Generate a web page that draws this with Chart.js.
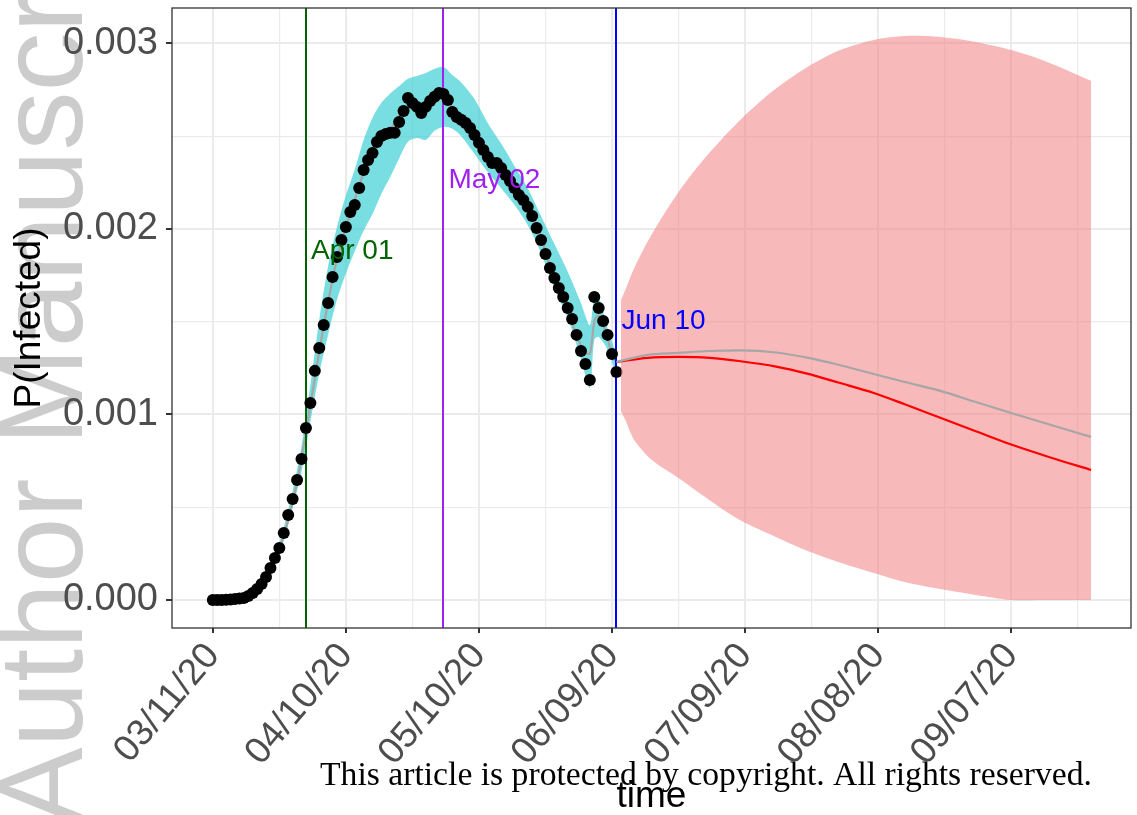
<!DOCTYPE html>
<html>
<head>
<meta charset="utf-8">
<script src="https://cdn.jsdelivr.net/npm/chart.js@4.4.0/dist/chart.umd.min.js"></script>
<style>
    html, body { margin: 0; padding: 0; background: #fff; overflow: hidden; }
    canvas { display: block; }
</style>
</head>
<body>
<canvas id="infectedChart" width="1137" height="815"></canvas>
<script>
// x values are days since 03/11/20
const xTickDays = [0, 30, 60, 90, 120, 150, 180];
const xTickLabels = ["03/11/20", "04/10/20", "05/10/20", "06/09/20", "07/09/20", "08/08/20", "09/07/20"];
const xMinorDays = [15, 45, 75, 105, 135, 165, 195];
const yTickValues = [0, 0.001, 0.002, 0.003];
const yTickLabels = ["0.000", "0.001", "0.002", "0.003"];
const yMinorValues = [0.0005, 0.0015, 0.0025];

// daily observed P(Infected), day 0 .. day 91
const observed = [
    0, 0, 0, 0.000001, 0.000003, 0.000005, 0.000008, 0.000011, 0.000022, 0.000038,
    0.000059, 0.000086, 0.000124, 0.000173, 0.000226, 0.000280, 0.000361, 0.000458, 0.000544, 0.000647,
    0.000760, 0.000927, 0.001062, 0.001235, 0.001358, 0.001482, 0.001601, 0.001741, 0.001849, 0.001941,
    0.002011, 0.002092, 0.002129, 0.002221, 0.002318, 0.002372, 0.002410, 0.002469, 0.002501, 0.002512,
    0.002518, 0.002518, 0.002577, 0.002636, 0.002706, 0.002679, 0.002658, 0.002625, 0.002658, 0.002690,
    0.002712, 0.002733, 0.002728, 0.002695, 0.002631, 0.002604, 0.002588, 0.002571, 0.002544, 0.002507,
    0.002464, 0.002426, 0.002388, 0.002356, 0.002356, 0.002329, 0.002291, 0.002259, 0.002221, 0.002183,
    0.002156, 0.002119, 0.002070, 0.002005, 0.001941, 0.001865, 0.001790, 0.001736, 0.001682, 0.001633,
    0.001574, 0.001515, 0.001429, 0.001342, 0.001272, 0.001186, 0.001633, 0.001574, 0.001504, 0.001429,
    0.001326, 0.001229
];

// fitted curve and its band over the observed period
const fitDays = [0, 6, 10, 13, 16, 19, 22, 25, 28, 31, 34, 37, 40, 43, 46, 49, 52, 55, 58, 61, 64, 67, 70, 73, 76, 79, 82, 84, 85, 86, 87, 88, 89, 90, 91];
const fitValues = [0, 0.000005, 0.000065, 0.000162, 0.000345, 0.000636, 0.001051, 0.001477, 0.001838, 0.002081,
    0.002302, 0.002469, 0.002534, 0.002642, 0.002663, 0.002695, 0.002717, 0.002615, 0.002550, 0.002437,
    0.002350, 0.002259, 0.002156, 0.002022, 0.001806, 0.001633, 0.001429, 0.001332, 0.001326, 0.001499,
    0.001531, 0.001482, 0.001412, 0.001321, 0.001283];

const bandDays = [0, 8, 12, 15, 18, 20, 22, 24, 26, 28, 30, 32, 34, 36, 38, 40, 42, 44, 46, 48, 50, 52, 54, 56, 59, 62, 65, 68, 71, 74, 77, 80, 83, 85, 86, 87, 89, 91];
const bandUpper = [0.000011, 0.000043, 0.000146, 0.000310, 0.000590, 0.000830, 0.001160, 0.001510, 0.001800, 0.002010,
    0.002180, 0.002320, 0.002480, 0.002600, 0.002680, 0.002730, 0.002770, 0.002810, 0.002825, 0.002840,
    0.002863, 0.002873, 0.002830, 0.002790, 0.002700, 0.002570, 0.002460, 0.002340, 0.002220, 0.002070,
    0.001920, 0.001770, 0.001600, 0.001482, 0.001628, 0.001633, 0.001466, 0.001321];
const bandLower = [-0.000005, 0.000016, 0.000097, 0.000245, 0.000500, 0.000690, 0.000960, 0.001220, 0.001430, 0.001620,
    0.001760, 0.001880, 0.001990, 0.002080, 0.002190, 0.002280, 0.002380, 0.002470, 0.002490, 0.002480,
    0.002530, 0.002550, 0.002540, 0.002500, 0.002405, 0.002305, 0.002220, 0.002130, 0.002020, 0.001870,
    0.001680, 0.001520, 0.001300, 0.001143, 0.001402, 0.001418, 0.001348, 0.001208];

// forecast after Jun 10
const forecastDays = [91, 98, 105, 112, 119, 127, 134, 141, 149, 156, 164, 172, 180, 189, 198];
const forecastRed = [0.001283, 0.001305, 0.001310, 0.001305, 0.001287, 0.001258, 0.001220, 0.001172, 0.001116, 0.001055,
    0.000982, 0.000910, 0.000838, 0.000767, 0.000701];
const forecastGray = [0.001283, 0.001321, 0.001332, 0.001342, 0.001345, 0.001334, 0.001306, 0.001268, 0.001218, 0.001175,
    0.001127, 0.001067, 0.001008, 0.000943, 0.000879];

const forecastBandDays = [92, 93, 95, 99, 105, 110, 118, 126, 133, 141, 149, 156, 164, 172, 180, 187, 195, 198];
const forecastUpper = [0.001617, 0.001671, 0.001790, 0.001973, 0.002199, 0.002356, 0.002566, 0.002739, 0.002857, 0.002960,
    0.003019, 0.003040, 0.003035, 0.003008, 0.002965, 0.002911, 0.002830, 0.002798];
const forecastLower = [0.001019, 0.000970, 0.000863, 0.000755, 0.000658, 0.000571, 0.000442, 0.000350, 0.000275, 0.000205,
    0.000146, 0.000097, 0.000059, 0.000027, 0, 0, 0, 0];

// marked dates
const eventDays = [21, 52, 91];
const eventLabels = ["Apr 01", "May 02", "Jun 10"];
const eventLabelY = [0.00184, 0.00222, 0.00146];
const eventColors = ["#006400", "#a020f0", "#0000ff"];

function pairs(xs, ys) {
    return xs.map(function (x, i) { return { x: x, y: ys[i] }; });
}

const sans = "'Liberation Sans', Arial, sans-serif";
const POINTS_INDEX = 3;

const decorations = {
    id: "decorations",
    beforeDraw: function (chart) {
        const ctx = chart.ctx;
        ctx.save();
        ctx.translate(82, 826);
        ctx.rotate(-Math.PI / 2);
        ctx.font = "118px " + sans;
        ctx.fillStyle = "#cccccc";
        ctx.textBaseline = "alphabetic";
        ctx.fillText("Author Manuscript", 0, 0);
        ctx.restore();
    },
    beforeDatasetDraw: function (chart, args) {
        if (args.index !== POINTS_INDEX) return;
        const ctx = chart.ctx;
        const area = chart.chartArea;
        const xs = chart.scales.x;
        ctx.save();
        ctx.lineWidth = 2;
        eventDays.forEach(function (d, i) {
            const px = Math.round(xs.getPixelForValue(d));
            ctx.strokeStyle = eventColors[i];
            ctx.beginPath();
            ctx.moveTo(px, area.top);
            ctx.lineTo(px, area.bottom);
            ctx.stroke();
        });
        ctx.restore();
    },
    afterDatasetsDraw: function (chart) {
        const ctx = chart.ctx;
        const area = chart.chartArea;
        const xs = chart.scales.x;
        const ys = chart.scales.y;
        ctx.save();
        ctx.font = "28px " + sans;
        ctx.textBaseline = "alphabetic";
        ctx.textAlign = "left";
        eventDays.forEach(function (d, i) {
            ctx.fillStyle = eventColors[i];
            ctx.fillText(eventLabels[i], xs.getPixelForValue(d) + 5, ys.getPixelForValue(eventLabelY[i]));
        });
        ctx.strokeStyle = "#333333";
        ctx.lineWidth = 1.3;
        ctx.strokeRect(area.left, area.top, area.right - area.left, area.bottom - area.top);
        ctx.restore();
    },
    afterDraw: function (chart) {
        const ctx = chart.ctx;
        const text = "This article is protected by copyright. All rights reserved.";
        ctx.save();
        ctx.font = "33px 'Liberation Serif', 'DejaVu Serif', serif";
        ctx.fillStyle = "#000";
        ctx.textBaseline = "alphabetic";
        ctx.textAlign = "left";
        const w = ctx.measureText(text).width;
        ctx.translate(320, 785);
        ctx.scale(772 / w, 1);
        ctx.fillText(text, 0, 0);
        ctx.restore();
    },
};

function isMajor(list, v) {
    return list.some(function (m) { return Math.abs(m - v) < 1e-9; });
}

new Chart(document.getElementById("infectedChart"), {
    type: "line",
    data: {
        datasets: [
            {
                data: pairs(bandDays, bandLower),
                borderWidth: 0,
                pointRadius: 0,
                tension: 0.3,
                fill: false,
                order: 100,
            },
            {
                data: pairs(bandDays, bandUpper),
                borderWidth: 0,
                pointRadius: 0,
                tension: 0.3,
                backgroundColor: "rgba(64, 208, 212, 0.7)",
                fill: "-1",
                order: 99,
            },
            {
                data: pairs(fitDays, fitValues),
                borderColor: "#a6a6a6",
                borderWidth: 2.2,
                pointRadius: 0,
                cubicInterpolationMode: "monotone",
                fill: false,
                order: 98,
            },
            {
                data: observed.map(function (v, i) { return { x: i, y: v }; }),
                showLine: false,
                pointRadius: 6,
                pointBackgroundColor: "#000",
                pointBorderWidth: 0,
                order: 97,
            },
            {
                data: pairs(forecastBandDays, forecastLower),
                borderWidth: 0,
                pointRadius: 0,
                tension: 0.3,
                fill: false,
                order: 96,
            },
            {
                data: pairs(forecastBandDays, forecastUpper),
                borderWidth: 0,
                pointRadius: 0,
                tension: 0.3,
                backgroundColor: "rgba(240, 128, 128, 0.55)",
                fill: "-1",
                order: 95,
            },
            {
                data: pairs(forecastDays, forecastRed),
                borderColor: "#ff0000",
                borderWidth: 2.2,
                pointRadius: 0,
                cubicInterpolationMode: "monotone",
                fill: false,
                order: 94,
            },
            {
                data: pairs(forecastDays, forecastGray),
                borderColor: "#a6a6a6",
                borderWidth: 2.2,
                pointRadius: 0,
                cubicInterpolationMode: "monotone",
                fill: false,
                order: 93,
            },
        ],
    },
    options: {
        responsive: false,
        devicePixelRatio: 1,
        animation: false,
        layout: { padding: { top: 8, right: 4, left: 0, bottom: 0 } },
        plugins: {
            legend: { display: false },
            tooltip: { enabled: false },
        },
        scales: {
            x: {
                type: "linear",
                min: -9.2,
                max: 207,
                afterBuildTicks: function (scale) {
                    scale.ticks = xTickDays.concat(xMinorDays).sort(function (a, b) { return a - b; })
                        .map(function (v) { return { value: v }; });
                },
                afterFit: function (scale) {
                    scale.height = 187;
                    scale.paddingLeft = 0;
                    scale.paddingRight = 0;
                },
                ticks: {
                    autoSkip: false,
                    minRotation: 50,
                    maxRotation: 50,
                    padding: 2,
                    color: "#4d4d4d",
                    font: { family: sans, size: 37 },
                    callback: function (value) {
                        const i = xTickDays.indexOf(value);
                        return i >= 0 ? xTickLabels[i] : "";
                    },
                },
                grid: {
                    color: "#ebebeb",
                    lineWidth: function (c) { return c.tick && isMajor(xTickDays, c.tick.value) ? 2 : 1.2; },
                    tickColor: function (c) { return c.tick && isMajor(xTickDays, c.tick.value) ? "#333333" : "rgba(0,0,0,0)"; },
                    tickLength: 5,
                },
                border: { display: false },
                title: {
                    display: true,
                    text: "time",
                    color: "#000",
                    font: { family: sans, size: 37, lineHeight: 1 },
                    padding: { top: 0, bottom: 0 },
                },
            },
            y: {
                min: -0.000151,
                max: 0.003191,
                afterBuildTicks: function (scale) {
                    scale.ticks = yTickValues.concat(yMinorValues).sort(function (a, b) { return a - b; })
                        .map(function (v) { return { value: v }; });
                },
                afterFit: function (scale) {
                    scale.width = 172;
                    scale.paddingTop = 0;
                    scale.paddingBottom = 0;
                },
                ticks: {
                    padding: 8,
                    color: "#4d4d4d",
                    font: { family: sans, size: 38 },
                    callback: function (value) {
                        for (let i = 0; i < yTickValues.length; i++) {
                            if (Math.abs(yTickValues[i] - value) < 1e-9) return yTickLabels[i];
                        }
                        return "";
                    },
                },
                grid: {
                    color: "#ebebeb",
                    lineWidth: function (c) { return c.tick && isMajor(yTickValues, c.tick.value) ? 2 : 1.2; },
                    tickColor: function (c) { return c.tick && isMajor(yTickValues, c.tick.value) ? "#333333" : "rgba(0,0,0,0)"; },
                    tickLength: 6,
                },
                border: { display: false },
                title: {
                    display: true,
                    text: "P(Infected)",
                    color: "#000",
                    font: { family: sans, size: 37, lineHeight: 1 },
                    padding: { top: 11, bottom: 0 },
                },
            },
        },
    },
    plugins: [decorations],
});
</script>
</body>
</html>
